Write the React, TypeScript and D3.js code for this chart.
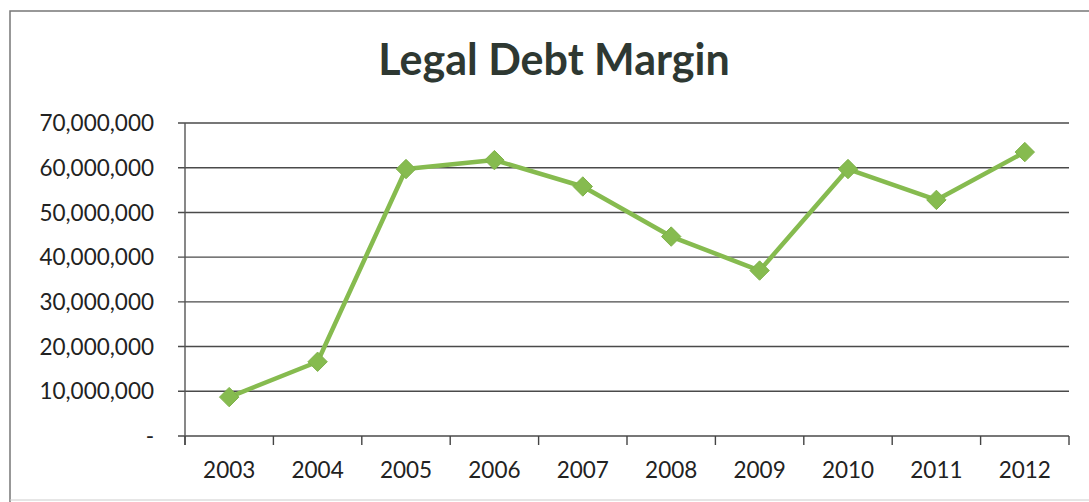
import React from "react";
import * as d3 from "d3";

const years = ["2003", "2004", "2005", "2006", "2007", "2008", "2009", "2010", "2011", "2012"];
const margins = [8700000, 16600000, 59700000, 61700000, 55800000, 44600000, 37000000, 59700000, 52800000, 63500000];
const yTicks = [0, 10000000, 20000000, 30000000, 40000000, 50000000, 60000000, 70000000];
const title = "Legal Debt Margin";

const W = 1089;
const H = 502;
const plot = { left: 185, right: 1069, top: 123, bottom: 436 };
const font = "Lato, 'Open Sans', sans-serif";

export default function App() {
  const x = d3.scaleBand<string>().domain(years).range([plot.left, plot.right]);
  const y = d3.scaleLinear().domain([0, 70000000]).range([plot.bottom, plot.top]);
  const fmt = (v: number) => (v === 0 ? "-" : d3.format(",")(v));
  const pts = years.map((yr, i) => [x(yr)! + x.bandwidth() / 2, y(margins[i])] as [number, number]);
  const line = d3.line()(pts) || "";
  const boundaries = years.map((yr) => x(yr)!).concat([plot.right]);

  return (
    <svg width={W} height={H} style={{ position: "absolute", left: 0, top: 0, background: "#fff" }}>
      <rect x={0} y={0} width={W} height={H} fill="#fff" />
      <path d={`M10,${H} V11 H${W}`} fill="none" stroke="#777" strokeWidth={1.5} />
      <line x1={10} x2={W} y1={500} y2={500} stroke="#ccc" strokeWidth={1} />
      <text x={554} y={75} textAnchor="middle" fontFamily={font} fontWeight={700} fontSize={43} fill="#2e3832">
        {title}
      </text>
      {yTicks.map((t) => (
        <g key={t}>
          <line x1={plot.left - 7} x2={plot.right} y1={y(t)} y2={y(t)} stroke="#4a4a4a" strokeWidth={1.4} />
          <text x={154} y={y(t)} dy="0.36em" textAnchor="end" fontFamily={font} fontSize={22.5} fill="#222">
            {fmt(t)}
          </text>
        </g>
      ))}
      <line x1={plot.left} x2={plot.left} y1={plot.top} y2={plot.bottom + 9} stroke="#555" strokeWidth={1.4} />
      {boundaries.map((b, i) => (
        <line key={i} x1={b} x2={b} y1={plot.bottom} y2={plot.bottom + 9} stroke="#444" strokeWidth={1.4} />
      ))}
      {years.map((yr) => (
        <text key={yr} x={x(yr)! + x.bandwidth() / 2} y={470} dy="0.36em" textAnchor="middle" fontFamily={font} fontSize={22.5} fill="#222">
          {yr}
        </text>
      ))}
      <path d={line} fill="none" stroke="#86bb4f" strokeWidth={4.5} strokeLinejoin="round" />
      {pts.map(([px, py], i) => (
        <path key={i} d={d3.symbol(d3.symbolDiamond2, 240)()!} transform={`translate(${px},${py})`} fill="#86bb4f" stroke="#7fb24a" strokeWidth={1} />
      ))}
    </svg>
  );
}
